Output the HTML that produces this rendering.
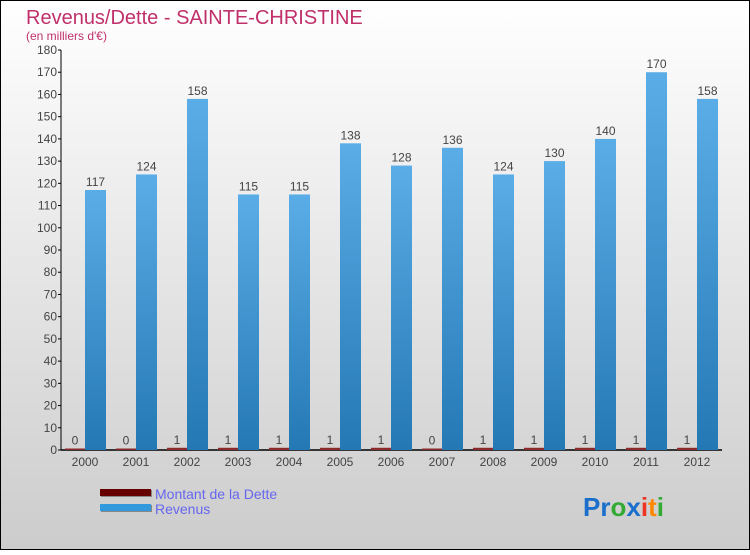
<!DOCTYPE html>
<html><head><meta charset="utf-8"><style>
html,body{margin:0;padding:0;}
body{width:750px;height:550px;overflow:hidden;font-family:"Liberation Sans",sans-serif;}
</style></head><body>
<svg width="750" height="550" xmlns="http://www.w3.org/2000/svg">
<defs>
<linearGradient id="bg" x1="0" y1="0" x2="0" y2="1"><stop offset="0" stop-color="#ffffff"/><stop offset="1" stop-color="#cccccc"/></linearGradient>
<linearGradient id="blue" x1="0" y1="0" x2="0" y2="1"><stop offset="0" stop-color="#5aade6"/><stop offset="1" stop-color="#2478b4"/></linearGradient>
</defs>
<rect x="0.5" y="0.5" width="749" height="549" fill="url(#bg)" stroke="#000"/>
<text x="26" y="24" font-size="20" fill="#c0306a">Revenus/Dette - SAINTE-CHRISTINE</text>
<text x="26" y="40" font-size="12" fill="#c0306a">(en milliers d'€)</text>
<g id="axes"></g>
<g id="bars"></g>
<g>
<rect x="101" y="490" width="51" height="7" fill="#888"/><rect x="100" y="489" width="51" height="7" fill="#660000"/>
<text x="155" y="499" font-size="14" fill="#6666ee">Montant de la Dette</text>
<rect x="101" y="505" width="51" height="7" fill="#888"/><rect x="100" y="504" width="51" height="7" fill="#3399dd"/>
<text x="155" y="514" font-size="14" fill="#6666ee">Revenus</text>
</g>
<g font-size="26" font-weight="bold">
<text x="583" y="516"><tspan fill="#1a6fcc">Pr</tspan><tspan fill="#33aa33">o</tspan><tspan fill="#1a6fcc">x</tspan><tspan fill="#ee3322">i</tspan><tspan fill="#ff8800">t</tspan><tspan fill="#33aa33">i</tspan></text>
</g>
</svg>
<script>
const categories=["2000","2001","2002","2003","2004","2005","2006","2007","2008","2009","2010","2011","2012"];
const dette=[0,0,1,1,1,1,1,0,1,1,1,1,1];
const revenus=[117,124,158,115,115,138,128,136,124,130,140,170,158];
const yTicks=[0,10,20,30,40,50,60,70,80,90,100,110,120,130,140,150,160,170,180];
const NS="http://www.w3.org/2000/svg";
const y0=450,yTop=50,yMax=180;
function y(v){return y0-(v/yMax)*(y0-yTop);}
function xc(i){return 85+i*51;}
function mk(t,a,p){const e=document.createElementNS(NS,t);for(const k in a)e.setAttribute(k,a[k]);p.appendChild(e);return e;}
const ax=document.getElementById('axes'),bars=document.getElementById('bars');
const yl=mk('line',{x1:61,y1:y0,x2:61,y2:yTop,stroke:'#000','stroke-width':1},ax);


yTicks.forEach(v=>{
 const l=mk('line',{x1:58,x2:61,y1:y(v),y2:y(v),stroke:'#000'},ax);
 
 
 const t=mk('text',{x:57,y:y(v)+4,'text-anchor':'end','font-size':12,fill:'#444'},ax);
 t.textContent=v;
 
 
});
categories.forEach((c,i)=>{
 const cx=xc(i);
 const t=mk('text',{x:cx,y:466,'text-anchor':'middle','font-size':12,fill:'#444'},ax);
 t.textContent=c;
 
 
 const hd=Math.max(y0-y(dette[i]),1.5);
 const d=mk('rect',{x:cx-20,y:y0-hd,width:20,height:hd,fill:'#8b2a2a'},bars);
 
 
 const dl=mk('text',{x:cx-10,y:y0-hd-4,'text-anchor':'middle','font-size':12,fill:'#444'},bars);
 dl.textContent=dette[i];
 
 
 const b=mk('rect',{x:cx,y:y(revenus[i]),width:21,height:y0-y(revenus[i]),fill:'url(#blue)'},bars);
 
 
 const bl=mk('text',{x:cx+10.5,y:y(revenus[i])-4,'text-anchor':'middle','font-size':12,fill:'#444'},bars);
 bl.textContent=revenus[i];
 
 
});
const xl=mk('line',{x1:61,y1:y0,x2:722,y2:y0,stroke:'#000','stroke-width':1.5},ax);


</script>
</body></html>
